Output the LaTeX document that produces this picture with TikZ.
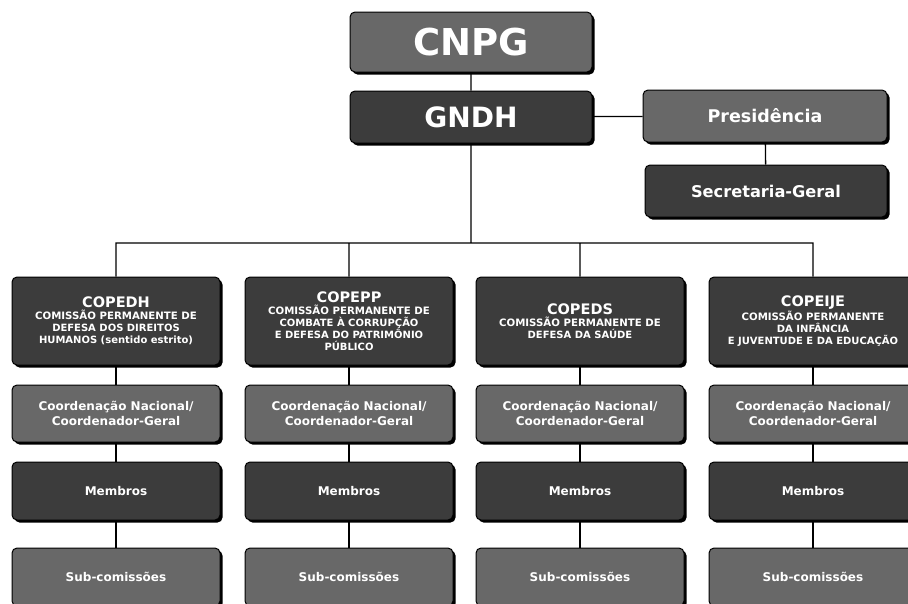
\documentclass[tikz,border=0pt]{standalone}
\usepackage{fontspec}
\setmainfont{DejaVu Sans}
\usetikzlibrary{shadows}
\definecolor{boxmid}{HTML}{686868}
\definecolor{boxdark}{HTML}{3C3C3C}
\newcommand{\ctitle}[1]{{\fontsize{14.5}{16}\selectfont #1}\\[0.5pt]\fontsize{10.2}{14}\selectfont}
\tikzset{%
        box/.style = {
            draw = black,
            line width = 1pt,
            rounded corners = 5pt,
            text = white,
            font = \bfseries,
            align = center,
            inner sep = 0pt,
            drop shadow = {shadow xshift=2.5pt, shadow yshift=-2.5pt, fill=black, opacity=1}
        },
        midbox/.style = {box, fill = boxmid},
        darkbox/.style = {box, fill = boxdark},
        link/.style = {draw = black, line width = 1.3pt}
}
\begin{document}
\begin{tikzpicture}[x=1pt, y=-1pt]
            \useasboundingbox (0,0) rectangle (908,603);
            % top of the chart
            \node[midbox, minimum width=242pt, minimum height=60pt] (cnpg) at (471, 42) {\fontsize{37}{40}\selectfont CNPG};
            \node[darkbox, minimum width=242pt, minimum height=52pt] (gndh) at (471, 117) {\fontsize{28}{30}\selectfont GNDH};
            \node[midbox, minimum width=244pt, minimum height=52pt] (pres) at (765, 116) {\fontsize{17.5}{19}\selectfont Presidência};
            \node[darkbox, minimum width=242pt, minimum height=52pt] (sec) at (766, 191) {\fontsize{16.2}{18}\selectfont Secretaria-Geral};
            \coordinate (bus) at (471, 243);
            % commissions
            \node[darkbox, minimum width=208pt, minimum height=88pt] (c1) at (116, 321)
                {\ctitle{COPEDH}COMISSÃO PERMANENTE DE\\DEFESA DOS DIREITOS\\HUMANOS (sentido estrito)};
            \node[darkbox, minimum width=208pt, minimum height=88pt] (c2) at (349, 321)
                {\ctitle{COPEPP}COMISSÃO PERMANENTE DE\\COMBATE À CORRUPÇÃO\\E DEFESA DO PATRIMÔNIO\\PÚBLICO};
            \node[darkbox, minimum width=208pt, minimum height=88pt] (c3) at (580, 321)
                {\ctitle{COPEDS}COMISSÃO PERMANENTE DE\\DEFESA DA SAÚDE};
            \node[darkbox, minimum width=208pt, minimum height=88pt] (c4) at (813, 321)
                {\ctitle{COPEIJE}COMISSÃO PERMANENTE\\DA INFÂNCIA\\E JUVENTUDE E DA EDUCAÇÃO};
            % the same three boxes under every commission
            \foreach \c/\x in {c1/116, c2/349, c3/580, c4/813} {
                \node[midbox, minimum width=208pt, minimum height=57pt, font=\bfseries\fontsize{12}{15}\selectfont] (\c-coord) at (\x, 413.5) {Coordenação Nacional/\\Coordenador-Geral};
                \node[darkbox, minimum width=208pt, minimum height=58pt, font=\bfseries\fontsize{12}{15}\selectfont] (\c-memb) at (\x, 491) {Membros};
                \node[midbox, minimum width=208pt, minimum height=58pt, font=\bfseries\fontsize{12}{15}\selectfont] (\c-sub) at (\x, 577) {Sub-comissões};
                \path[link] (\c.south) -- (\c-coord.north)
                            (\c-coord.south) -- (\c-memb.north)
                            (\c-memb.south) -- (\c-sub.north);
            }
            \path[link]
            (cnpg) -- (gndh)
            (gndh) -- (pres)
            (pres) -- (sec)
            (gndh) -- (bus)
            (c1.north) |- (bus) -| (c4.north)
            (c2.north) |- (bus)
            (c3.north) |- (bus)
            ;
        \end{tikzpicture}
\end{document}
